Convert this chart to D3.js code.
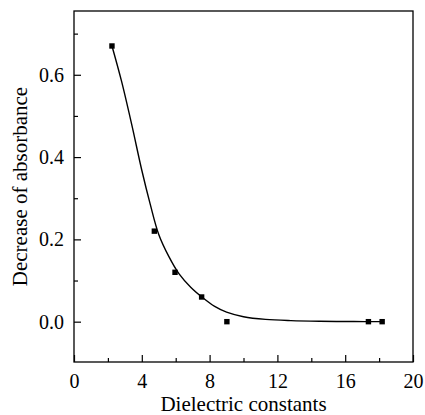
<!DOCTYPE html>
<html>
<head>
<meta charset="utf-8">
<script src="https://cdn.jsdelivr.net/npm/d3@7"></script>
<style>
  body { margin: 0; background: #fff; }
  text { font-family: "Liberation Serif", "DejaVu Serif", serif; fill: #000; }
</style>
</head>
<body>
<div id="chart-area"></div>
<script>
const MARGIN = { LEFT: 74, RIGHT: 12, TOP: 11, BOTTOM: 53 }
const W = 425, H = 415

// measured points
const dielectric = [2.24, 4.74, 5.96, 7.53, 9.02, 17.37, 18.18]
const decrease   = [0.67, 0.22, 0.12, 0.06, 0.0, 0.0, 0.0]

// fitted curve
const fitX = [2.24, 2.8, 3.4, 4.0, 4.5, 5.0, 5.6, 6.2, 6.9, 7.6, 8.3, 9.0, 10.0, 11.3, 12.8, 14.5, 16.5, 18.18]
const fitY = [0.67, 0.585, 0.48, 0.368, 0.285, 0.212, 0.158, 0.116, 0.083, 0.058, 0.037, 0.023, 0.012, 0.0055, 0.0025, 0.001, 0.0003, 0.0]

const xTicks = [0, 4, 8, 12, 16, 20]
const yTicks = [0.0, 0.2, 0.4, 0.6]

const points = dielectric.map((d, i) => ({x: d, y: decrease[i]}))
const fit = fitX.map((d, i) => ({x: d, y: fitY[i]}))

const x = d3.scaleLinear()
  .domain([0, 20])
  .range([MARGIN.LEFT, W - MARGIN.RIGHT])

const y = d3.scaleLinear()
  .domain([-0.098, 0.755])
  .range([H - MARGIN.BOTTOM, MARGIN.TOP])

const svg = d3.select("#chart-area").append("svg")
  .attr("width", W)
  .attr("height", H)

// minor ticks
svg.append("g")
  .attr("transform", `translate(0,${H - MARGIN.BOTTOM})`)
  .call(d3.axisBottom(x).tickValues(d3.range(2, 20, 4)).tickSize(-4).tickFormat(""))
  .call(g => g.select(".domain").remove())
  .call(g => g.selectAll("line").attr("stroke-width", 1.2))

svg.append("g")
  .attr("transform", `translate(${MARGIN.LEFT},0)`)
  .call(d3.axisLeft(y).tickValues([0.1, 0.3, 0.5, 0.7]).tickSize(-4).tickFormat(""))
  .call(g => g.select(".domain").remove())
  .call(g => g.selectAll("line").attr("stroke-width", 1.2))

// major axes
svg.append("g")
  .attr("transform", `translate(0,${H - MARGIN.BOTTOM})`)
  .call(d3.axisBottom(x).tickValues(xTicks).tickSize(-7).tickPadding(12).tickSizeOuter(0))
  .call(g => g.select(".domain").remove())
  .call(g => g.selectAll("line").attr("stroke-width", 1.2))
  .call(g => g.selectAll("text").attr("font-size", 20))

svg.append("g")
  .attr("transform", `translate(${MARGIN.LEFT},0)`)
  .call(d3.axisLeft(y).tickValues(yTicks).tickFormat(d3.format(".1f")).tickSize(-7).tickPadding(10))
  .call(g => g.select(".domain").remove())
  .call(g => g.selectAll("line").attr("stroke-width", 1.2))
  .call(g => g.selectAll("text").attr("font-size", 20))

// frame
svg.append("rect")
  .attr("x", x(0))
  .attr("y", y(0.755))
  .attr("width", x(20) - x(0))
  .attr("height", y(-0.098) - y(0.755))
  .attr("fill", "none")
  .attr("stroke", "#000")
  .attr("stroke-width", 1.3)

// fitted curve
const line = d3.line()
  .x(d => x(d.x))
  .y(d => y(d.y))
  .curve(d3.curveCatmullRom.alpha(0.5))

svg.append("path")
  .attr("fill", "none")
  .attr("stroke", "#000")
  .attr("stroke-width", 1.4)
  .attr("d", line(fit))

// markers
svg.append("g")
  .selectAll("rect")
  .data(points)
  .join("rect")
    .attr("x", d => x(d.x) - 2.7)
    .attr("y", d => y(d.y) - 2.7)
    .attr("width", 5.4)
    .attr("height", 5.4)
    .attr("fill", "#000")

// axis titles
svg.append("text")
  .attr("x", (x(0) + x(20)) / 2)
  .attr("y", 411)
  .attr("text-anchor", "middle")
  .attr("font-size", 21)
  .text("Dielectric constants")

svg.append("text")
  .attr("transform", `translate(27,${(y(0.755) + y(-0.098)) / 2}) rotate(-90)`)
  .attr("text-anchor", "middle")
  .attr("font-size", 21)
  .text("Decrease of absorbance")
</script>
</body>
</html>
